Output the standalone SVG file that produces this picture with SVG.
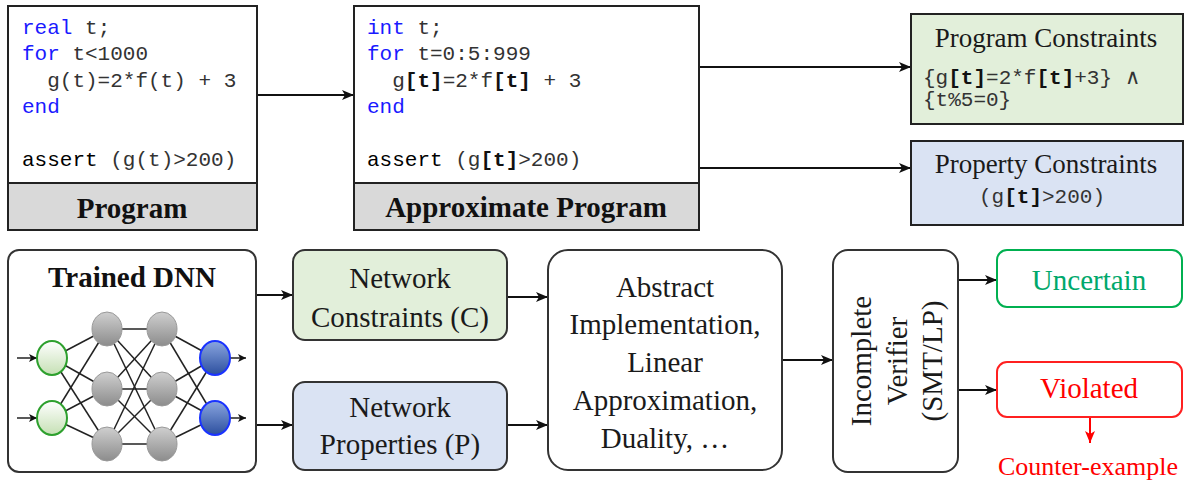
<svg xmlns="http://www.w3.org/2000/svg" width="1184" height="486" viewBox="0 0 1184 486">
<style>
.box{fill:#fff;stroke:#222;stroke-width:2}
.band{fill:#d9d9d9;stroke:#222;stroke-width:2}
.code{font-family:"Liberation Mono","Courier New",monospace;font-size:21px;fill:#333}
.kw{fill:#1a1aff}
.as{fill:#000}
.b{font-weight:bold;fill:#111}
.title{font-family:"Liberation Serif","Times New Roman",serif;font-weight:bold;font-size:29px;fill:#111;text-anchor:middle}
.lbl{font-family:"Liberation Serif","Times New Roman",serif;font-size:29px;fill:#1a1a1a;text-anchor:middle}
.sub{font-family:"Liberation Serif","Times New Roman",serif;font-size:27px;fill:#1a1a1a;text-anchor:middle}
.conn{stroke:#111;stroke-width:2;fill:none}
.nn{stroke:#222;stroke-width:1.5}
.rbox{stroke:#333;stroke-width:2}
</style>
<defs>
<marker id="ah" markerWidth="13" markerHeight="10" refX="12" refY="5" orient="auto" markerUnits="userSpaceOnUse">
<path d="M0,0 L12,5 L0,10 L3,5 Z" fill="#111"/>
</marker>
<marker id="ahs" markerWidth="9" markerHeight="8" refX="8" refY="4" orient="auto" markerUnits="userSpaceOnUse">
<path d="M0,0 L8,4 L0,8 L2,4 Z" fill="#111"/>
</marker>
<marker id="ahr" markerWidth="13" markerHeight="10" refX="12" refY="5" orient="auto" markerUnits="userSpaceOnUse">
<path d="M0,0 L12,5 L0,10 L3,5 Z" fill="#f00"/>
</marker>
<linearGradient id="gGray" x1="0" y1="0" x2="0" y2="1">
<stop offset="0" stop-color="#cfcfcf"/><stop offset="1" stop-color="#8c8c8c"/>
</linearGradient>
<linearGradient id="gGreen" x1="0" y1="0" x2="0" y2="1">
<stop offset="0" stop-color="#ffffff"/><stop offset="1" stop-color="#c5e0b4"/>
</linearGradient>
<linearGradient id="gBlue" x1="0" y1="0" x2="0" y2="1">
<stop offset="0" stop-color="#8aa6e0"/><stop offset="1" stop-color="#2c4f9e"/>
</linearGradient>
</defs>

<g id="connectors">
<line class="conn" x1="257" y1="95" x2="354" y2="95" marker-end="url(#ah)"/>
<line class="conn" x1="699" y1="67" x2="911" y2="67" marker-end="url(#ah)"/>
<line class="conn" x1="699" y1="168" x2="911" y2="168" marker-end="url(#ah)"/>
<line class="conn" x1="256" y1="295" x2="293" y2="295" marker-end="url(#ah)"/>
<line class="conn" x1="256" y1="425" x2="293" y2="425" marker-end="url(#ah)"/>
<line class="conn" x1="507" y1="297" x2="548" y2="297" marker-end="url(#ah)"/>
<line class="conn" x1="507" y1="425" x2="548" y2="425" marker-end="url(#ah)"/>
<line class="conn" x1="782" y1="360" x2="833" y2="360" marker-end="url(#ah)"/>
<line class="conn" x1="958" y1="280" x2="997" y2="280" marker-end="url(#ah)"/>
<line class="conn" x1="958" y1="390" x2="997" y2="390" stroke="#555" marker-end="url(#ah)"/>
<line x1="1090" y1="417" x2="1090" y2="443" stroke="#f00" stroke-width="2" marker-end="url(#ahr)"/>
</g>

<g id="program">
<rect class="box" x="8" y="6" width="249" height="177"/>
<rect class="band" x="8" y="183" width="249" height="47"/>
<text class="code" x="22" y="34"><tspan class="kw">real</tspan> t;</text>
<text class="code" x="22" y="60"><tspan class="kw">for</tspan> t&lt;1000</text>
<text class="code" x="22" y="87" xml:space="preserve">  g(t)=2*f(t) + 3</text>
<text class="code" x="22" y="113"><tspan class="kw">end</tspan></text>
<text class="code" x="22" y="166"><tspan class="as">assert</tspan> (g(t)&gt;200)</text>
<text class="title" x="132" y="218">Program</text>
</g>

<g id="approx-program">
<rect class="box" x="354" y="6" width="345" height="177"/>
<rect class="band" x="354" y="183" width="345" height="47"/>
<text class="code" x="367" y="34"><tspan class="kw">int</tspan> t;</text>
<text class="code" x="367" y="60"><tspan class="kw">for</tspan> t=0:5:999</text>
<text class="code" x="367" y="87" xml:space="preserve">  g<tspan class="b">[t]</tspan>=2*f<tspan class="b">[t]</tspan> + 3</text>
<text class="code" x="367" y="113"><tspan class="kw">end</tspan></text>
<text class="code" x="367" y="166" xml:space="preserve"><tspan class="as">assert</tspan> (g<tspan class="b">[t]</tspan>&gt;200)</text>
<text class="title" x="526" y="217">Approximate Program</text>
</g>

<g id="program-constraints">
<rect x="911" y="14" width="272" height="110" fill="#e2efda" stroke="#222" stroke-width="2"/>
<text class="sub" x="1046" y="47">Program Constraints</text>
<text class="code" x="923" y="84" xml:space="preserve">{g<tspan class="b">[t]</tspan>=2*f<tspan class="b">[t]</tspan>+3} <tspan font-family="Liberation Serif,serif">∧</tspan></text>
<text class="code" x="923" y="106">{t%5=0}</text>
</g>

<g id="property-constraints">
<rect x="911" y="141" width="272" height="84" fill="#dae3f3" stroke="#222" stroke-width="2"/>
<text class="sub" x="1046" y="173">Property Constraints</text>
<text class="code" x="1042" y="203" text-anchor="middle" font-size="19">(g<tspan class="b">[t]</tspan>&gt;200)</text>
</g>

<g id="trained-dnn">
<rect class="rbox" x="8" y="250" width="248" height="222" rx="11" fill="#fff"/>
<text class="title" x="132" y="287">Trained DNN</text>
<g class="nn">
<line x1="52" y1="358" x2="107" y2="329"/><line x1="52" y1="358" x2="107" y2="389"/><line x1="52" y1="358" x2="107" y2="444"/>
<line x1="52" y1="418" x2="107" y2="329"/><line x1="52" y1="418" x2="107" y2="389"/><line x1="52" y1="418" x2="107" y2="444"/>
<line x1="107" y1="329" x2="162" y2="329"/><line x1="107" y1="329" x2="162" y2="389"/><line x1="107" y1="329" x2="162" y2="444"/>
<line x1="107" y1="389" x2="162" y2="329"/><line x1="107" y1="389" x2="162" y2="389"/><line x1="107" y1="389" x2="162" y2="444"/>
<line x1="107" y1="444" x2="162" y2="329"/><line x1="107" y1="444" x2="162" y2="389"/><line x1="107" y1="444" x2="162" y2="444"/>
<line x1="162" y1="329" x2="215" y2="358"/><line x1="162" y1="389" x2="215" y2="358"/><line x1="162" y1="444" x2="215" y2="358"/>
<line x1="162" y1="329" x2="215" y2="418"/><line x1="162" y1="389" x2="215" y2="418"/><line x1="162" y1="444" x2="215" y2="418"/>
</g>
<line x1="17" y1="358" x2="37" y2="358" class="nn" marker-end="url(#ahs)"/>
<line x1="17" y1="418" x2="37" y2="418" class="nn" marker-end="url(#ahs)"/>
<line x1="230" y1="358" x2="246" y2="358" class="nn" marker-end="url(#ahs)"/>
<line x1="230" y1="418" x2="246" y2="418" class="nn" marker-end="url(#ahs)"/>
<ellipse cx="52" cy="358" rx="15" ry="17" fill="url(#gGreen)" stroke="#2ea02e" stroke-width="2"/>
<ellipse cx="52" cy="418" rx="15" ry="17" fill="url(#gGreen)" stroke="#2ea02e" stroke-width="2"/>
<ellipse cx="107" cy="329" rx="15" ry="17" fill="url(#gGray)" stroke="#999" stroke-width="1"/>
<ellipse cx="107" cy="389" rx="15" ry="17" fill="url(#gGray)" stroke="#999" stroke-width="1"/>
<ellipse cx="107" cy="444" rx="15" ry="17" fill="url(#gGray)" stroke="#999" stroke-width="1"/>
<ellipse cx="162" cy="329" rx="15" ry="17" fill="url(#gGray)" stroke="#999" stroke-width="1"/>
<ellipse cx="162" cy="389" rx="15" ry="17" fill="url(#gGray)" stroke="#999" stroke-width="1"/>
<ellipse cx="162" cy="444" rx="15" ry="17" fill="url(#gGray)" stroke="#999" stroke-width="1"/>
<ellipse cx="215" cy="358" rx="15" ry="17" fill="url(#gBlue)" stroke="#1a33ff" stroke-width="2"/>
<ellipse cx="215" cy="418" rx="15" ry="17" fill="url(#gBlue)" stroke="#1a33ff" stroke-width="2"/>
</g>

<g id="network-constraints">
<rect class="rbox" x="293" y="250" width="214" height="90" rx="12" fill="#e2efda"/>
<text class="lbl" x="400" y="288">Network</text>
<text class="lbl" x="400" y="327">Constraints (C)</text>
</g>

<g id="network-properties">
<rect class="rbox" x="293" y="382" width="214" height="88" rx="12" fill="#dae3f3"/>
<text class="lbl" x="400" y="417">Network</text>
<text class="lbl" x="400" y="454">Properties (P)</text>
</g>

<g id="abstract">
<rect class="rbox" x="548" y="250" width="234" height="220" rx="20" fill="#fff"/>
<text class="lbl" x="665" y="297">Abstract</text>
<text class="lbl" x="665" y="334">Implementation,</text>
<text class="lbl" x="665" y="372">Linear</text>
<text class="lbl" x="665" y="410">Approximation,</text>
<text class="lbl" x="665" y="448">Duality, …</text>
</g>

<g id="verifier">
<rect class="rbox" x="833" y="250" width="125" height="222" rx="15" fill="#fff"/>
<text class="lbl" transform="translate(871,361) rotate(-90)">Incomplete</text>
<text class="lbl" transform="translate(907,361) rotate(-90)">Verifier</text>
<text class="lbl" transform="translate(942,361) rotate(-90)">(SMT/LP)</text>
</g>

<g id="uncertain">
<rect x="997" y="250" width="185" height="57" rx="10" fill="#fff" stroke="#00b050" stroke-width="2"/>
<text class="lbl" x="1089" y="290" style="fill:#00a86b">Uncertain</text>
</g>

<g id="violated">
<rect x="997" y="362" width="185" height="55" rx="10" fill="#fff" stroke="#ff2020" stroke-width="2"/>
<text class="lbl" x="1089" y="398" style="fill:#ff0000">Violated</text>
</g>

<g id="counter-example">
<text class="lbl" x="1088" y="475" style="fill:#ff0000;font-size:26px">Counter-example</text>
</g>
</svg>
